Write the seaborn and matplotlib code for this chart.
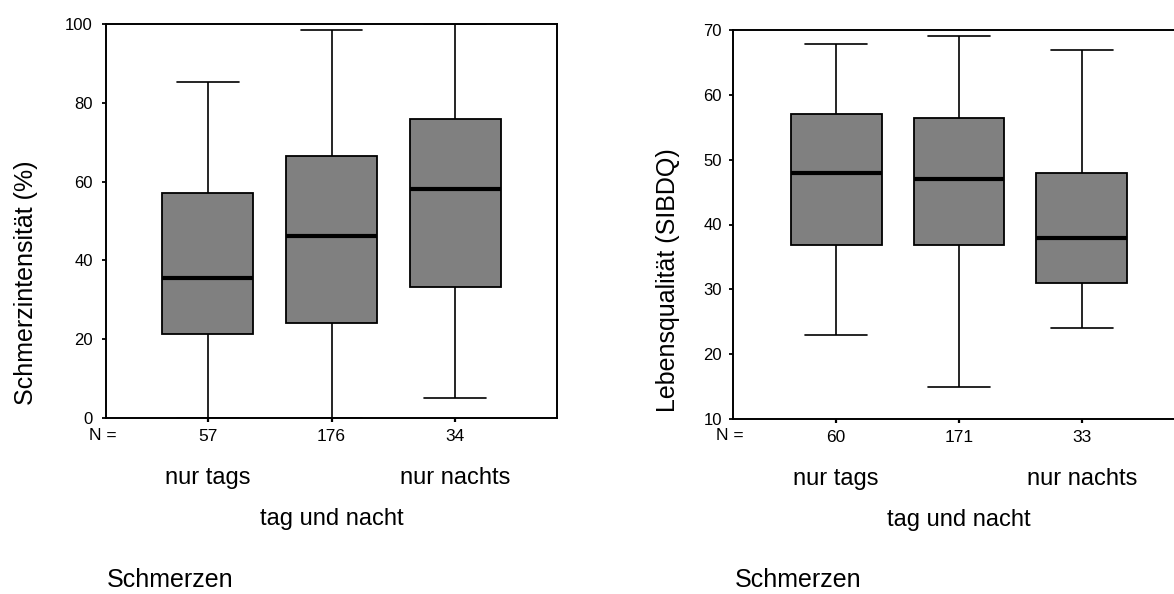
import matplotlib
matplotlib.use("Agg")
import matplotlib.pyplot as plt
import pandas as pd
import seaborn as sns

sns.set_theme(style="white")
plt.rcParams["font.family"] = ["Liberation Sans", "DejaVu Sans"]
plt.rcParams["text.color"] = "black"
plt.rcParams["axes.labelcolor"] = "black"
plt.rcParams["xtick.color"] = "black"
plt.rcParams["ytick.color"] = "black"

# Pain timing groups
categories = ["nur tags", "tag und nacht", "nur nachts"]

# Five-number summaries (min, Q1, median, Q3, max) per group
pain_min = [0.0, 0.0, 5.0]
pain_q1 = [21.3, 24.0, 33.2]
pain_med = [35.6, 46.2, 58.0]
pain_q3 = [57.1, 66.4, 76.0]
pain_max = [85.4, 98.6, 100.0]
pain_n = [57, 176, 34]

qol_min = [23.0, 15.0, 24.0]
qol_q1 = [36.9, 36.9, 31.0]
qol_med = [47.9, 47.0, 37.9]
qol_q3 = [57.0, 56.4, 48.0]
qol_max = [67.9, 69.1, 66.9]
qol_n = [60, 171, 33]


def summary_frame(mins, q1s, meds, q3s, maxs):
    rows = []
    for cat, vals in zip(categories, zip(mins, q1s, meds, q3s, maxs)):
        for v in vals:
            rows.append({"Schmerzen": cat, "wert": v})
    return pd.DataFrame(rows)


fig = plt.figure(figsize=(11.74, 5.94), dpi=100)
ax1 = fig.add_axes([106 / 1174, 1 - 418 / 594, 451 / 1174, 394 / 594])
ax2 = fig.add_axes([733 / 1174, 1 - 419 / 594, 452 / 1174, 389 / 594])

panels = [
    (ax1, summary_frame(pain_min, pain_q1, pain_med, pain_q3, pain_max), pain_n,
     "Schmerzintensität (%)", (0, 100), range(0, 101, 20), (-0.177, 0.343), 6.5,
     (-0.82, 2.82)),
    (ax2, summary_frame(qol_min, qol_q1, qol_med, qol_q3, qol_max), qol_n,
     "Lebensqualität (SIBDQ)", (10, 70), range(10, 71, 10), (-0.144, 0.357), 5.0,
     (-0.84, 2.84)),
]

for ax, df, ns, ylabel, ylim, yticks, labpos, ypad, xlim in panels:
    sns.boxplot(
        data=df, x="Schmerzen", y="wert", order=categories, ax=ax,
        whis=(0, 100), width=0.74, color="#808080", saturation=1,
        linecolor="black", linewidth=1.3, fliersize=0,
        medianprops={"linewidth": 3.0, "color": "black"},
        whiskerprops={"linewidth": 1.2},
        capprops={"linewidth": 1.2},
        capwidths=0.5,
    )
    ax.set_xlim(*xlim)
    ax.set_ylim(*ylim)
    ax.set_yticks(list(yticks))
    ax.set_yticklabels([str(t) for t in yticks], fontsize=12)
    ax.set_xticks(range(len(categories)))
    ax.set_xticklabels([str(n) for n in ns], fontsize=12.5)
    ax.tick_params(axis="y", direction="out", length=3, width=1.3, pad=ypad,
                   left=True, colors="black")
    ax.tick_params(axis="x", direction="out", length=3, width=1.6, pad=5,
                   bottom=True, colors="black")
    ax.set_xlabel("")
    ax.set_ylabel(ylabel, fontsize=18, va="center", color="black")
    ax.yaxis.set_label_coords(*labpos)
    for sp in ax.spines.values():
        sp.set_visible(True)
        sp.set_color("black")
        sp.set_linewidth(1.4)

    # "N =" in front of the group sizes
    ax.annotate("N =", xy=(0, 0), xycoords="axes fraction",
                xytext=(-3, -17), textcoords="offset pixels",
                ha="center", va="center", fontsize=12.5, color="black")
    # staggered group names
    offsets = [-60, -101, -60]
    for i, (cat, off) in enumerate(zip(categories, offsets)):
        ax.annotate(cat, xy=(i, 0), xycoords=("data", "axes fraction"),
                    xytext=(0, off), textcoords="offset pixels",
                    ha="center", va="center", fontsize=17, color="black")

fig.text(107 / 1174, 1 - 580 / 594, "Schmerzen", fontsize=18, ha="left",
         va="center", color="black")
fig.text(735 / 1174, 1 - 580 / 594, "Schmerzen", fontsize=18, ha="left",
         va="center", color="black")

fig.savefig("out.png", dpi=100, facecolor="white")
